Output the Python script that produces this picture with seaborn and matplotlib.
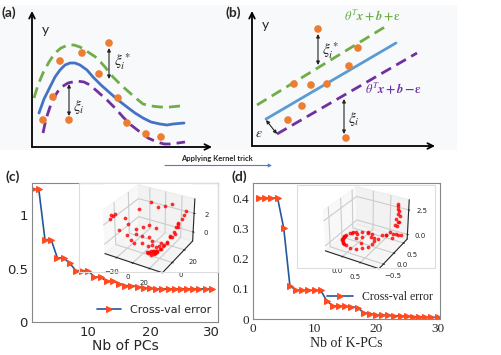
import matplotlib
matplotlib.use('Agg')
import matplotlib.pyplot as plt
import seaborn as sns
from matplotlib.patches import Rectangle
from matplotlib.ticker import MultipleLocator

# ---------------- data ----------------
n_comp = list(range(1, 31))
pca_err = [1.24, 1.24, 0.77, 0.77, 0.60, 0.60, 0.55, 0.48, 0.48, 0.48,
           0.42, 0.42, 0.38, 0.38, 0.36, 0.34, 0.34, 0.33, 0.32, 0.315,
           0.31, 0.31, 0.31, 0.31, 0.31, 0.31, 0.31, 0.31, 0.31, 0.31]
kpca_err = [0.40, 0.40, 0.40, 0.40, 0.30, 0.11, 0.095, 0.095, 0.095, 0.095,
            0.095, 0.06, 0.043, 0.043, 0.042, 0.040, 0.038, 0.020, 0.018, 0.014,
            0.013, 0.012, 0.011, 0.010, 0.009, 0.008, 0.007, 0.006, 0.006, 0.005]

# PCA projection (inset c)
pca_x = [-32, -31, -32, -30, -26, -24, -20, -15, -8, -2, 5, 12, -18, -14, -12, -10,
         -8, -6, -4, -2, 0, 2, 4, 6, 8, 9, 10, 11, 12, 13, 14, 15, 16, 17, 18, 12,
         10, 14, 19, 20, 16, 8, 6, 11, 13, 15, 22, 23, 24, 25, 26, 27, 28, 29, 27,
         25, 30, 24, 21, 26, 28]
pca_y = [-8, -6, -9, -4, 4, -6, 2, 12, 22, 25, 28, 30, -2, 6, -4, 2,
         10, -6, 4, 12, -2, 6, 14, 0, -4, -2, 0, 2, -3, 1, -1, 3, -2, 0, 4, 5,
         -5, 6, 2, 6, 8, 3, 6, -1, 3, 0, 8, 12, 10, 15, 18, 20, 24, 26, 14,
         22, 28, 6, 4, 12, 18]
pca_z = [2.7, 2.5, 2.3, 2.6, 1.8, 1.2, 1.5, 2.6, 2.9, 2.4, 2.5, 2.7, 0.6, 0.9, 0.4, 0.7,
         1.0, 0.3, 0.5, 1.2, 0.2, 0.4, 0.9, 0.0, -0.4, -0.5, -0.5, -0.6, -0.6, -0.5, -0.6, -0.5,
         -0.4, -0.4, -0.3, -0.3, -0.3, -0.2, -0.2, 0.0, 0.0, -0.1, 0.1, -0.55, -0.55, -0.55,
         0.3, 0.6, 0.8, 1.0, 1.3, 1.6, 1.9, 2.2, 0.9, 1.5, 2.5, 0.4, 0.1, 0.7, 1.4]

# Kernel PCA projection (inset d)
kpca_x = [0.45, 0.42, 0.35, 0.23, 0.08, -0.07, -0.2, -0.3, -0.33, -0.3, -0.2, -0.07, 0.08,
          0.23, 0.35, 0.42, -0.32, -0.31, -0.28, -0.25, -0.33, -0.34, -0.27, -0.24, -0.15,
          -0.29, 0.0, 0.1, 0.2, 0.3, -0.1, 0.15, 0.5, 0.55, 0.6, 0.65, 0.7, 0.75, 0.8,
          0.85, 0.9, 0.78, 0.8, 0.82, 0.78, 0.8, 0.83, 0.79, 0.81, 0.77, 0.84, 0.8, 0.86]
kpca_y = [-0.1, 0.05, 0.18, 0.27, 0.3, 0.27, 0.18, 0.05, -0.1, -0.25, -0.38, -0.45, -0.48,
          -0.45, -0.38, -0.25, -0.15, -0.2, -0.3, -0.33, -0.05, -0.12, 0.1, 0.14, -0.42,
          -0.28, -0.1, 0.0, -0.2, 0.1, 0.1, 0.2, 0.1, 0.2, 0.3, 0.25, 0.35, 0.4, 0.45,
          0.5, 0.55, 0.3, 0.5, 0.52, 0.48, 0.55, 0.5, 0.53, 0.51, 0.46, 0.56, 0.5, 0.48]
kpca_z = [0.0, 0.02, 0.0, 0.05, 0.0, -0.02, 0.0, 0.0, -0.05, 0.0, 0.0, 0.02, 0.0,
          0.0, 0.05, 0.0, 0.0, 0.03, 0.0, -0.03, 0.02, 0.0, 0.0, 0.03, 0.0,
          0.04, 0.1, 0.15, 0.1, 0.2, 0.05, 0.3, 0.2, 0.4, 0.3, 0.5, 0.6, 0.4, 0.3,
          0.2, 0.1, 0.2, 1.0, 1.4, 1.8, 2.2, 2.6, 3.0, 3.2, 1.2, 2.0, 2.8, 1.6]

# schematic (a): curve and sample points
a_fit_x = [39, 44, 50, 55, 60, 65, 70, 75, 80, 87, 93, 101, 110, 118, 127, 135, 143, 151,
           160, 167, 173, 184]
a_fit_y = [113, 99, 87, 77, 70, 65, 63, 63, 65, 70, 77, 85, 93, 100, 107, 113, 118, 122,
           124, 125, 124, 123]
a_up_x = [34, 38, 43, 49, 55, 61, 68, 74, 80, 88, 97, 105, 113, 121, 130, 137, 143, 151,
          160, 170, 180]
a_up_y = [98, 85, 73, 62, 53, 48, 45, 45, 47, 52, 58, 67, 77, 85, 93, 99, 104, 106,
          107, 107, 106]
a_lo_x = [43, 46, 50, 55, 60, 68, 77, 84, 90, 98, 107, 115, 123, 131, 140, 148, 157, 164,
          170, 178, 185]
a_lo_y = [133, 119, 107, 96, 88, 83, 81, 82, 85, 92, 100, 108, 117, 125, 132, 138, 142, 144,
          144, 143, 142]
a_pts_x = [109, 82, 60, 99, 53, 118, 43, 69, 127, 146, 161]
a_pts_y = [43, 53, 61, 74, 97, 98, 120, 120, 123, 134, 137]

# schematic (b): linear fit and tube
b_fit_x = [266, 396]
b_fit_y = [119, 43]
b_up_x = [257, 388]
b_up_y = [105, 25]
b_lo_x = [277, 417]
b_lo_y = [134, 53]
b_pts_x = [318, 358, 349, 294, 311, 327, 302, 288, 346]
b_pts_y = [29, 48, 66, 84, 85, 84, 106, 120, 138]

# ---------------- style ----------------
sns.set_style('white')
plt.rcParams['font.family'] = ['DejaVu Sans']
plt.rcParams['mathtext.fontset'] = 'stix'

orange = '#ed7d31'
green = '#70ad47'
purple = '#7030a0'
line_col = '#24589a'
mark_col = '#ff4b1f'

fig = plt.figure(figsize=(5.01, 3.55), dpi=100)

# ---------------- top schematics ----------------
ax_s = fig.add_axes([0, 1 - 170 / 355, 1, 170 / 355])
ax_s.set_xlim(0, 501)
ax_s.set_ylim(170, 0)
ax_s.axis('off')
ax_s.add_patch(Rectangle((0, 5), 457, 145, color='#f8f9fb', zorder=0, lw=0))

dash = (0, (4, 2.2))
sns.lineplot(x=a_fit_x, y=a_fit_y, ax=ax_s, sort=False, estimator=None, color='#4472c4', lw=2)
sns.lineplot(x=a_up_x, y=a_up_y, ax=ax_s, sort=False, estimator=None, color=green, lw=2, linestyle=dash)
sns.lineplot(x=a_lo_x, y=a_lo_y, ax=ax_s, sort=False, estimator=None, color=purple, lw=2, linestyle=dash)
sns.scatterplot(x=a_pts_x, y=a_pts_y, ax=ax_s, color=orange, s=30, edgecolor='none', zorder=5)

sns.lineplot(x=b_fit_x, y=b_fit_y, ax=ax_s, sort=False, estimator=None, color='#5b9bd5', lw=2)
sns.lineplot(x=b_up_x, y=b_up_y, ax=ax_s, sort=False, estimator=None, color=green, lw=2, linestyle=dash)
sns.lineplot(x=b_lo_x, y=b_lo_y, ax=ax_s, sort=False, estimator=None, color=purple, lw=2, linestyle=dash)
sns.scatterplot(x=b_pts_x, y=b_pts_y, ax=ax_s, color=orange, s=30, edgecolor='none', zorder=5)

axis_arrow = dict(arrowstyle='->', lw=1.3, color='black', shrinkA=0, shrinkB=0, mutation_scale=10)
for (x0, y0, x1, y1) in [(32, 147, 32, 11), (32, 147, 212, 147),
                         (252, 146, 252, 11), (252, 146, 435, 146)]:
    ax_s.annotate('', xy=(x1, y1), xytext=(x0, y0), arrowprops=axis_arrow)

gap_arrow = dict(arrowstyle='<|-|>', lw=0.8, color='#222222', shrinkA=0, shrinkB=0, mutation_scale=5)
ax_s.annotate('', xy=(109, 48), xytext=(109, 79), arrowprops=gap_arrow)
ax_s.annotate('', xy=(69, 84), xytext=(69, 116), arrowprops=gap_arrow)
ax_s.annotate('', xy=(318, 34), xytext=(318, 65), arrowprops=gap_arrow)
ax_s.annotate('', xy=(344, 99), xytext=(344, 134), arrowprops=gap_arrow)
ax_s.annotate('', xy=(277, 134), xytext=(266, 120), arrowprops=gap_arrow)

ax_s.text(114, 62, r'$\xi_i^*$', fontsize=11, va='center')
ax_s.text(73, 107, r'$\xi_i$', fontsize=11, va='center')
ax_s.text(322, 51, r'$\xi_i^*$', fontsize=11, va='center')
ax_s.text(348, 119, r'$\xi_i$', fontsize=11, va='center')
ax_s.text(263, 133, r'$\varepsilon$', fontsize=10, va='center', ha='right')
ax_s.text(373, 16, r'$\boldsymbol{\theta^T x+b+\varepsilon}$', fontsize=9, color=green,
          ha='center', va='center')
ax_s.text(394, 89, r'$\boldsymbol{\theta^T x+b-\varepsilon}$', fontsize=9, color=purple,
          ha='center', va='center')
ax_s.text(42, 30, 'y', fontsize=10, family='Lato', va='center')
ax_s.text(262, 25, 'y', fontsize=10, family='Lato', va='center')

ax_s.text(217, 158, 'Applying Kernel trick', fontsize=5.5, family='Lato', weight='bold',
          ha='center', va='center')
ax_s.annotate('', xy=(272, 165.5), xytext=(165, 165.5),
              arrowprops=dict(arrowstyle='->', lw=0.8, color='#4a7fd0', shrinkA=0, shrinkB=0,
                              mutation_scale=5))

for lab, px, py in [('(a)', 2, 13), ('(b)', 226, 13), ('(c)', 5, 177), ('(d)', 232, 177)]:
    fig.text(px / 501, 1 - py / 355, lab, fontsize=10, family='Lato', weight='bold',
             va='center', ha='left')

# ---------------- (c) PCA error ----------------
ax_c = fig.add_axes([32 / 501, 1 - 322 / 355, 186 / 501, 139 / 355])
sns.lineplot(x=n_comp, y=pca_err, ax=ax_c, color=line_col, lw=1.2, marker='>', markersize=5,
             markerfacecolor=mark_col, markeredgecolor=mark_col, label='Cross-val error')
ax_c.set_xlim(0.9, 31)
ax_c.set_ylim(0, 1.3)
ax_c.set_xticks([10, 20, 30])
ax_c.set_yticks([0, 0.5, 1])
ax_c.set_yticklabels(['0', '0.5', '1'])
ax_c.xaxis.set_minor_locator(MultipleLocator(5))
ax_c.yaxis.set_minor_locator(MultipleLocator(0.25))
ax_c.tick_params(which='both', direction='in', color='#555555', labelsize=9.5, pad=3)
ax_c.tick_params(which='major', length=4)
ax_c.tick_params(which='minor', length=3)
ax_c.set_xlabel('Nb of PCs', fontsize=10, labelpad=0)
ax_c.set_ylabel('')
for sp in ax_c.spines.values():
    sp.set_color('#888888')
ax_c.legend(loc='lower right', frameon=False, fontsize=8, handlelength=2.2,
            borderaxespad=0.2)

ax_ci = fig.add_axes([79 / 501, 1 - 272 / 355, 139 / 501, 89 / 355], projection='3d')
ax_ci.scatter(pca_x, pca_y, pca_z, color='red', s=3, alpha=0.7, depthshade=False)
ax_ci.set_xlim(-35, 35)
ax_ci.set_ylim(-15, 35)
ax_ci.set_zlim(-1, 3.5)
ax_ci.set_xticks([-20, 0, 20])
ax_ci.set_yticks([0, 20])
ax_ci.set_zticks([0, 2])
ax_ci.set_box_aspect(None, zoom=1.15)
ax_ci.tick_params(labelsize=5, pad=-3)
fig.patches.append(Rectangle((79 / 501, 1 - 272 / 355), 139 / 501, 89 / 355,
                             transform=fig.transFigure, fill=False, ec='#dddddd', lw=0.8))

# ---------------- (d) Kernel PCA error ----------------
serif = 'Liberation Serif'
ax_d = fig.add_axes([253 / 501, 1 - 319 / 355, 187 / 501, 136 / 355])
sns.lineplot(x=n_comp, y=kpca_err, ax=ax_d, color=line_col, lw=1.2, marker='>', markersize=5,
             markerfacecolor=mark_col, markeredgecolor=mark_col, label='Cross-val error')
ax_d.set_xlim(0, 30.4)
ax_d.set_ylim(0, 0.45)
ax_d.set_xticks([0, 10, 20, 30])
ax_d.set_yticks([0, 0.1, 0.2, 0.3, 0.4])
ax_d.set_yticklabels(['0', '0.1', '0.2', '0.3', '0.4'])
ax_d.xaxis.set_minor_locator(MultipleLocator(5))
ax_d.yaxis.set_minor_locator(MultipleLocator(0.05))
ax_d.tick_params(which='both', direction='in', color='#555555', labelsize=9.5, pad=3)
ax_d.tick_params(which='major', length=4)
ax_d.tick_params(which='minor', length=3)
for lab in ax_d.get_xticklabels() + ax_d.get_yticklabels():
    lab.set_family(serif)
ax_d.set_xlabel('Nb of K-PCs', fontsize=10, family=serif, labelpad=1)
ax_d.set_ylabel('')
for sp in ax_d.spines.values():
    sp.set_color('#888888')
ax_d.legend(loc='center right', bbox_to_anchor=(1.0, 0.16), frameon=False,
            prop={'family': serif, 'size': 8.5}, handlelength=2.2, borderaxespad=0.2)

ax_di = fig.add_axes([297 / 501, 1 - 268 / 355, 138 / 501, 83 / 355], projection='3d')
ax_di.scatter(kpca_x, kpca_y, kpca_z, color='red', s=3, alpha=0.7, depthshade=False)
ax_di.set_xlim(-0.5, 1.0)
ax_di.set_ylim(-0.7, 0.7)
ax_di.set_zlim(-0.5, 3.5)
ax_di.set_xticks([0.0, 0.5])
ax_di.set_yticks([-0.5, 0.0, 0.5])
ax_di.set_zticks([0.0, 2.5])
ax_di.set_box_aspect(None, zoom=1.15)
ax_di.tick_params(labelsize=5, pad=-3)
fig.patches.append(Rectangle((297 / 501, 1 - 268 / 355), 138 / 501, 83 / 355,
                             transform=fig.transFigure, fill=False, ec='#dddddd', lw=0.8))

fig.savefig('out.png', dpi=100)
